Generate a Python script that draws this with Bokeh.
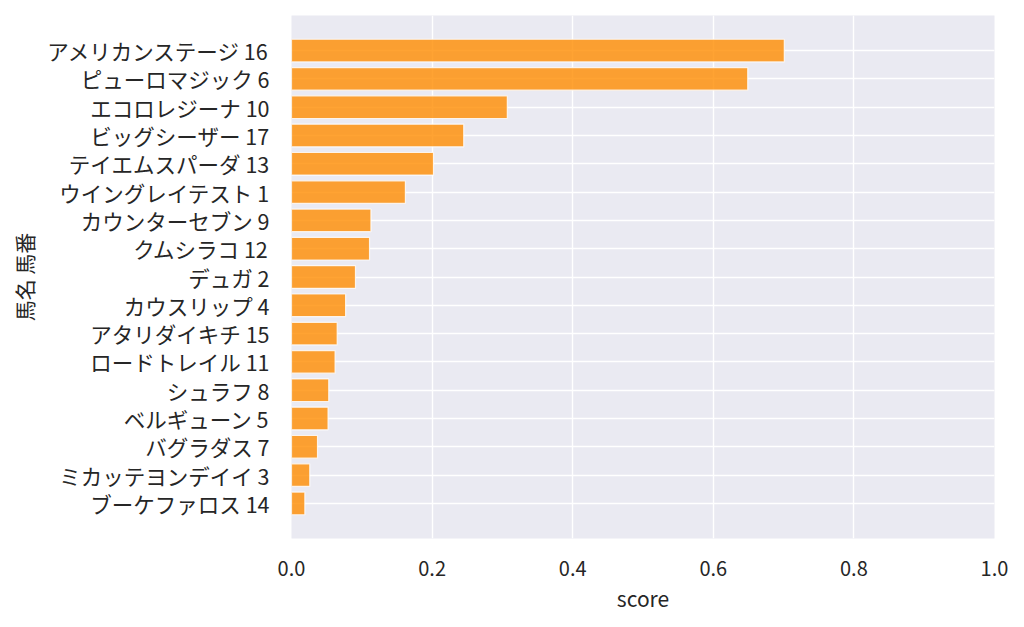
from bokeh.plotting import figure
from bokeh.models import FactorRange, Range1d, NumeralTickFormatter, FixedTicker
from bokeh.embed import file_html
from bokeh.resources import INLINE

horses = ["アメリカンステージ 16", "ピューロマジック 6", "エコロレジーナ 10", "ビッグシーザー 17",
          "テイエムスパーダ 13", "ウイングレイテスト 1", "カウンターセブン 9", "クムシラコ 12",
          "デュガ 2", "カウスリップ 4", "アタリダイキチ 15", "ロードトレイル 11", "シュラフ 8",
          "ベルギューン 5", "バグラダス 7", "ミカッテヨンデイイ 3", "ブーケファロス 14"]
scores = [0.701, 0.649, 0.307, 0.245, 0.202, 0.162, 0.113, 0.111,
          0.091, 0.077, 0.065, 0.062, 0.053, 0.052, 0.037, 0.026, 0.019]
x_ticks = [0.0, 0.2, 0.4, 0.6, 0.8, 1.0]

FONT = "Noto Sans CJK JP"
TXT = "#262626"

p = figure(frame_width=703, frame_height=523,
           y_range=FactorRange(factors=horses[::-1], range_padding=0.74, range_padding_units="absolute"),
           x_range=Range1d(0, 1.0),
           output_backend="svg", toolbar_location=None,
           min_border_left=291, min_border_right=20, min_border_top=15, min_border_bottom=80,
           background_fill_color="#eaeaf2", border_fill_color="white", outline_line_color=None)

p.hbar(y=horses, right=scores, left=0, height=0.8,
       fill_color="#ff8c00", fill_alpha=0.8, line_color="white", line_alpha=0.8, line_width=1.2)

p.xaxis.ticker = FixedTicker(ticks=x_ticks)
p.xaxis.formatter = NumeralTickFormatter(format="0.0")
for ax in (p.xaxis, p.yaxis):
    ax.axis_line_color = None
    ax.major_tick_line_color = None
    ax.minor_tick_line_color = None
    ax.major_label_text_font = FONT
    ax.major_label_text_font_size = "20px"
    ax.major_label_text_color = TXT
    ax.axis_label_text_font = FONT
    ax.axis_label_text_font_size = "21px"
    ax.axis_label_text_font_style = "normal"
    ax.axis_label_text_color = TXT
p.yaxis.major_label_text_font_size = "21.5px"

p.xaxis.axis_label = "score"
p.yaxis.axis_label = "馬名 馬番"
p.xaxis.major_label_standoff = 16
p.yaxis.major_label_standoff = 16
p.xaxis.axis_label_standoff = 4
p.yaxis.axis_label_standoff = 5

p.grid.grid_line_color = "white"
p.grid.grid_line_width = 1.4
p.ygrid.level = "underlay"
p.xgrid.level = "underlay"

open("out.html", "w").write(file_html(p, INLINE))
